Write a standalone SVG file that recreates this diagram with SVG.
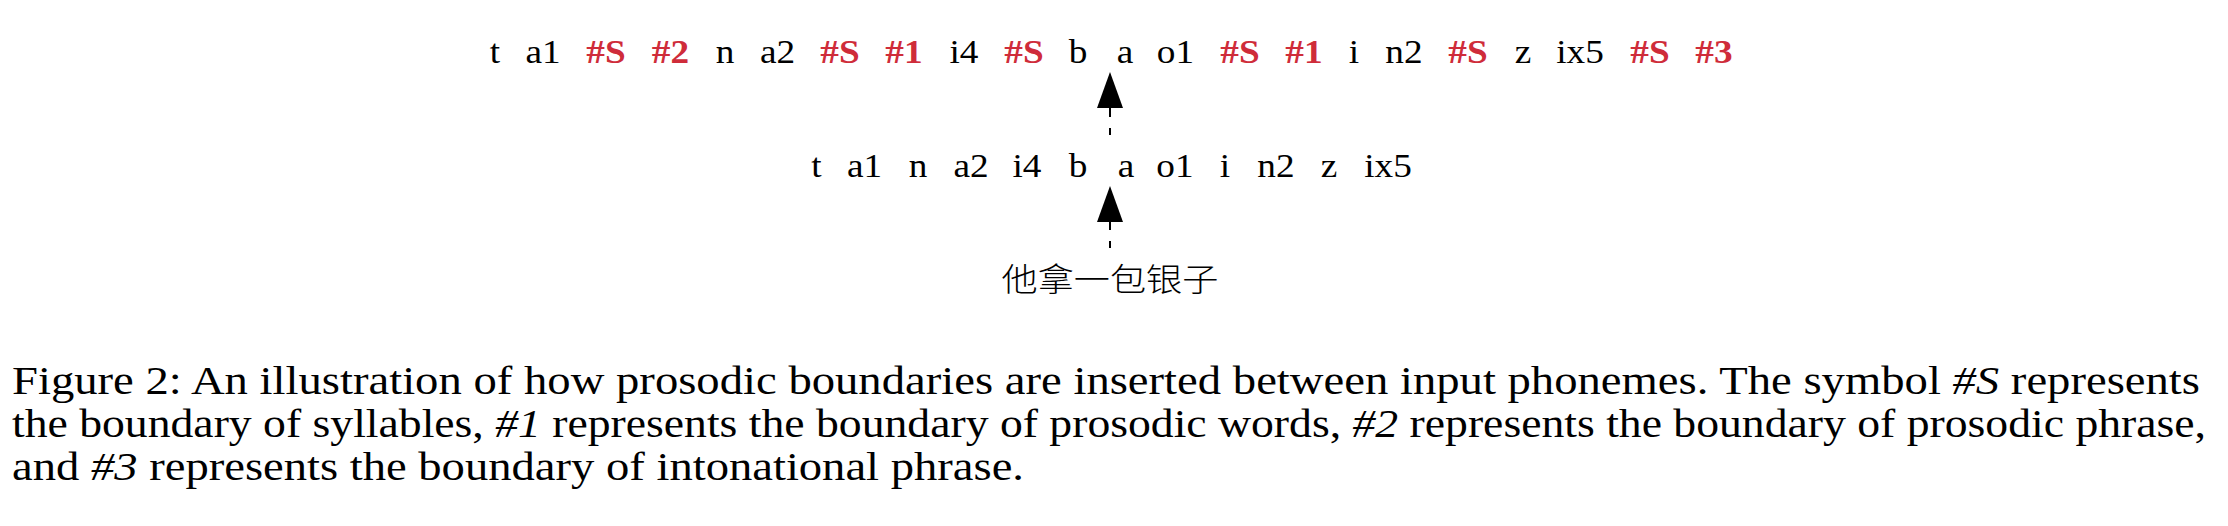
<svg xmlns="http://www.w3.org/2000/svg" width="2228" height="526" viewBox="0 0 2228 526">
<style>
.tok{font-family:"Liberation Serif","Times New Roman",serif;font-size:33px;fill:#000;text-anchor:middle}
.b{font-weight:bold;fill:#cf2c3a}
.zh{font-family:"Noto Sans CJK SC","Noto Sans CJK TC",sans-serif;font-size:32px;font-weight:300;fill:#000;text-anchor:middle}
.cap{font-family:"Liberation Serif","Times New Roman",serif;font-size:41px;fill:#000}
.it{font-style:italic}
.edge{fill:none;stroke:#000;stroke-width:2;stroke-dasharray:7 11 9}
</style>
<defs>
<marker id="ah" markerUnits="userSpaceOnUse" markerWidth="36" markerHeight="26" viewBox="0 0 36 26" refX="0" refY="13" orient="auto">
<path d="M0,0 L36,13 L0,26 Z" fill="#000"/>
</marker>
</defs>
<rect width="2228" height="526" fill="#fff"/>
<g transform="scale(1.13 1)">
<g id="node-top">
<text class="tok" y="63.5" x="438.05">t</text>
<text class="tok" y="63.5" x="480.53">a1</text>
<text class="tok b" y="63.5" x="536.28">#S</text>
<text class="tok b" y="63.5" x="593.36">#2</text>
<text class="tok" y="63.5" x="641.59">n</text>
<text class="tok" y="63.5" x="688.05">a2</text>
<text class="tok b" y="63.5" x="743.36">#S</text>
<text class="tok b" y="63.5" x="800">#1</text>
<text class="tok" y="63.5" x="853.1">i4</text>
<text class="tok b" y="63.5" x="906.19">#S</text>
<text class="tok" y="63.5" x="953.98">b</text>
<text class="tok" y="63.5" x="995.58">a</text>
<text class="tok" y="63.5" x="1040.27">o1</text>
<text class="tok b" y="63.5" x="1097.35">#S</text>
<text class="tok b" y="63.5" x="1153.98">#1</text>
<text class="tok" y="63.5" x="1198.23">i</text>
<text class="tok" y="63.5" x="1242.48">n2</text>
<text class="tok b" y="63.5" x="1299.12">#S</text>
<text class="tok" y="63.5" x="1347.79">z</text>
<text class="tok" y="63.5" x="1398.23">ix5</text>
<text class="tok b" y="63.5" x="1460.18">#S</text>
<text class="tok b" y="63.5" x="1516.81">#3</text>
</g>
<g id="node-mid">
<text class="tok" y="177" x="722.57">t</text>
<text class="tok" y="177" x="765.04">a1</text>
<text class="tok" y="177" x="812.39">n</text>
<text class="tok" y="177" x="859.29">a2</text>
<text class="tok" y="177" x="908.85">i4</text>
<text class="tok" y="177" x="953.98">b</text>
<text class="tok" y="177" x="996.46">a</text>
<text class="tok" y="177" x="1039.82">o1</text>
<text class="tok" y="177" x="1084.07">i</text>
<text class="tok" y="177" x="1129.2">n2</text>
<text class="tok" y="177" x="1176.11">z</text>
<text class="tok" y="177" x="1228.32">ix5</text>
</g>
<g id="node-zh">
<text class="zh" y="291" x="982.3">他拿一包银子</text>
</g>
</g>
<g id="connectors">
<path class="edge" d="M1110,135 L1110,108" marker-end="url(#ah)"/>
<path class="edge" d="M1110,248 L1110,222" marker-end="url(#ah)"/>
</g>
<g id="caption">
<text class="cap" x="12" y="394" textLength="2188" lengthAdjust="spacingAndGlyphs">Figure 2: An illustration of how prosodic boundaries are inserted between input phonemes. The symbol <tspan class="it">#S</tspan> represents</text>
<text class="cap" x="12" y="437" textLength="2194" lengthAdjust="spacingAndGlyphs">the boundary of syllables, <tspan class="it">#1</tspan> represents the boundary of prosodic words, <tspan class="it">#2</tspan> represents the boundary of prosodic phrase,</text>
<text class="cap" x="12" y="480" textLength="1012" lengthAdjust="spacingAndGlyphs">and <tspan class="it">#3</tspan> represents the boundary of intonational phrase.</text>
</g>
</svg>
